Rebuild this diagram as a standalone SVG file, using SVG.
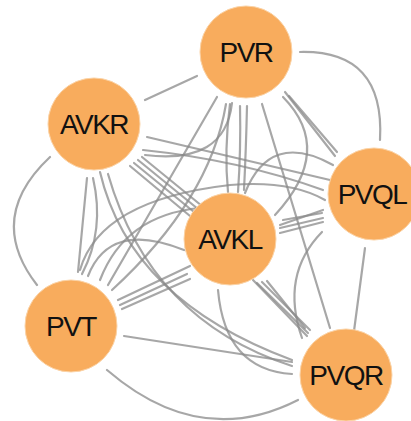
<svg xmlns="http://www.w3.org/2000/svg" width="411" height="421" viewBox="0 0 411 421">
<style>
.e{fill:none;stroke:#8a8a8a;stroke-width:2.2;stroke-opacity:0.75;stroke-linecap:round}
.n circle{fill:#F8AC5D;stroke:#fbd3a6;stroke-width:1}
.n text{font-family:"Liberation Sans",Arial,sans-serif;font-size:28px;letter-spacing:-1.5px;fill:#111111;text-anchor:middle}
</style>
<rect width="411" height="421" fill="#ffffff"/>
<g id="edges">
<path class="e" d="M145,100 L197,76"/>
<path class="e" d="M232,103 Q225,165 145,155"/>
<path class="e" d="M300,52 Q385,50 380,140"/>
<path class="e" d="M285,92 L335,156"/>
<path class="e" d="M289,96 L337,152"/>
<path class="e" d="M230,104 Q224,150 228,192"/>
<path class="e" d="M240,106 Q241,150 238,192"/>
<path class="e" d="M247,106 Q246,150 244,190"/>
<path class="e" d="M283,97 Q335,150 275,215"/>
<path class="e" d="M217,97 L108,285"/>
<path class="e" d="M226,104 Q210,200 112,290"/>
<path class="e" d="M262,104 L330,328"/>
<path class="e" d="M147,137 L330,180"/>
<path class="e" d="M143,150 Q240,160 323,190"/>
<path class="e" d="M130,166 L190,216"/>
<path class="e" d="M134,163 L194,212"/>
<path class="e" d="M138,160 L198,209"/>
<path class="e" d="M142,157 L202,206"/>
<path class="e" d="M50,157 Q-15,218 37,285"/>
<path class="e" d="M87,178 L78,272"/>
<path class="e" d="M93,178 Q105,230 82,274"/>
<path class="e" d="M100,172 Q130,300 292,360"/>
<path class="e" d="M108,174 Q150,320 292,366"/>
<path class="e" d="M280,225 L323,210"/>
<path class="e" d="M283,220 L322,213"/>
<path class="e" d="M280,233 L323,222"/>
<path class="e" d="M280,228 L323,218"/>
<path class="e" d="M245,193 Q270,130 333,165"/>
<path class="e" d="M365,248 L354,331"/>
<path class="e" d="M322,232 Q280,275 302,338"/>
<path class="e" d="M80,270 Q100,200 230,185 Q290,180 325,200"/>
<path class="e" d="M100,280 Q125,215 200,208"/>
<path class="e" d="M118,300 L190,266"/>
<path class="e" d="M120,305 L187,274"/>
<path class="e" d="M122,309 L190,279"/>
<path class="e" d="M88,276 Q110,220 184,250"/>
<path class="e" d="M253,280 L307,336"/>
<path class="e" d="M257,283 L308,333"/>
<path class="e" d="M262,282 L310,330"/>
<path class="e" d="M267,281 L305,328"/>
<path class="e" d="M218,290 Q225,370 292,374"/>
<path class="e" d="M124,336 L292,362"/>
<path class="e" d="M107,370 Q200,450 298,400"/>
</g>
<g id="PVR" class="n"><circle cx="246" cy="52" r="46"/><text x="246" y="62">PVR</text></g>
<g id="AVKR" class="n"><circle cx="94" cy="124" r="46"/><text x="94" y="134">AVKR</text></g>
<g id="PVQL" class="n"><circle cx="374" cy="194" r="46"/><text x="372" y="204">PVQL</text></g>
<g id="AVKL" class="n"><circle cx="230" cy="239" r="46"/><text x="230" y="249">AVKL</text></g>
<g id="PVT" class="n"><circle cx="71" cy="326" r="46"/><text x="71" y="336">PVT</text></g>
<g id="PVQR" class="n"><circle cx="346" cy="375" r="46"/><text x="346" y="385">PVQR</text></g>
</svg>
